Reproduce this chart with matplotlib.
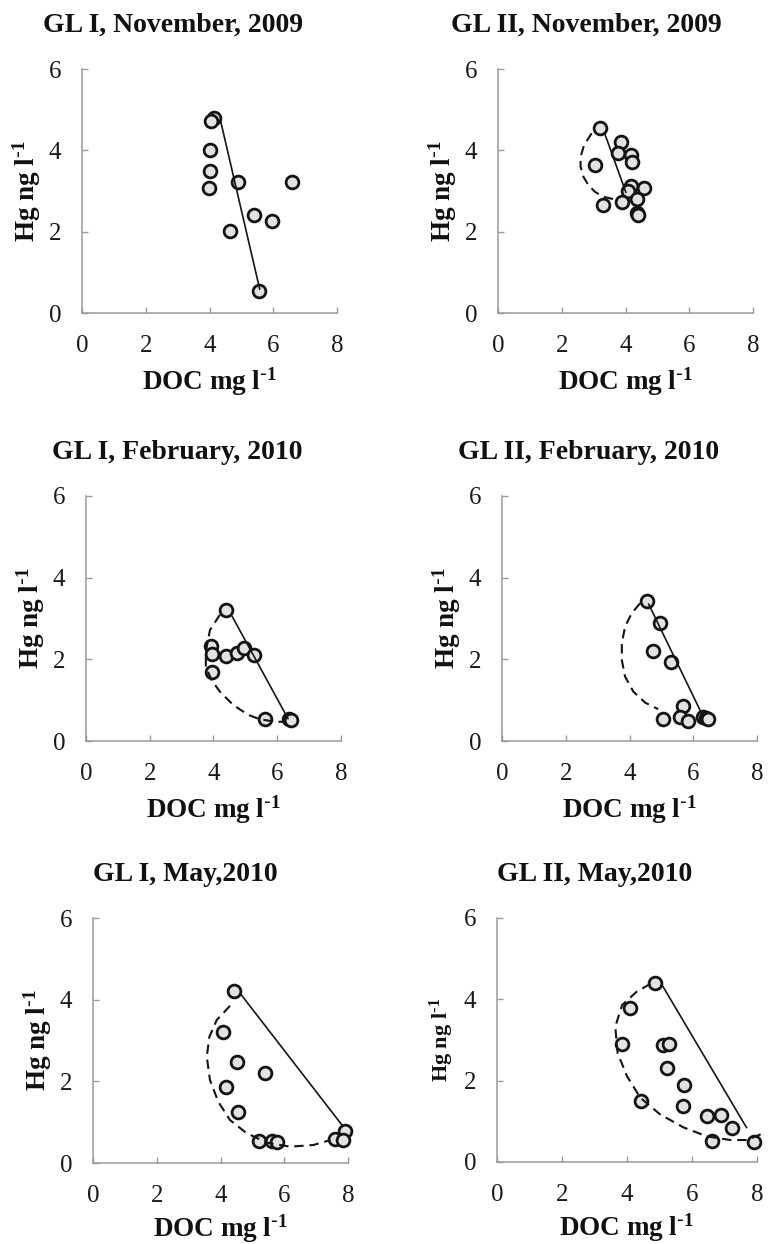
import matplotlib
matplotlib.use("Agg")
import matplotlib.pyplot as plt

plt.rcParams['font.family'] = ['Liberation Serif', 'DejaVu Serif']
plt.rcParams['mathtext.default'] = 'regular'

# ---------------- data ----------------
titles = ["GL I, November, 2009", "GL II, November, 2009",
          "GL I, February, 2010", "GL II, February, 2010",
          "GL I, May,2010", "GL II, May,2010"]
x_ticks = [0, 2, 4, 6, 8]
y_ticks = [0, 2, 4, 6]
x_label = r"DOC mg l$^{\text{-}1}$"
y_label = r"Hg ng l$^{\text{-}1}$"

# GL I, November 2009
p1_doc = [4.13, 4.06, 4.00, 4.00, 3.97, 4.90, 6.59, 5.39, 5.96, 4.63, 5.54]
p1_hg = [4.79, 4.71, 4.01, 3.50, 3.07, 3.23, 3.21, 2.41, 2.27, 2.02, 0.53]
p1_line_doc = [4.34, 5.58]
p1_line_hg = [4.75, 0.57]
p1_curve_doc = []
p1_curve_hg = []

# GL II, November 2009
p2_doc = [3.20, 3.85, 3.77, 4.16, 4.21, 3.04, 4.16, 4.09, 4.59, 4.37, 3.90, 3.30, 4.37, 4.40]
p2_hg = [4.54, 4.20, 3.94, 3.88, 3.72, 3.64, 3.12, 3.01, 3.07, 2.80, 2.74, 2.66, 2.47, 2.42]
p2_line_doc = [3.33, 4.02]
p2_line_hg = [4.45, 2.95]
p2_curve_doc = [2.94, 2.70, 2.59, 2.59, 2.68, 2.83, 3.04, 3.30, 3.62]
p2_curve_hg = [4.42, 4.13, 3.84, 3.60, 3.35, 3.15, 2.98, 2.86, 2.80]

# GL I, February 2010
p3_doc = [4.39, 3.91, 3.94, 4.38, 4.73, 4.96, 5.27, 3.94, 5.62, 6.38, 6.42]
p3_hg = [3.21, 2.33, 2.13, 2.07, 2.15, 2.27, 2.11, 1.70, 0.54, 0.53, 0.52]
p3_line_doc = [4.58, 6.35]
p3_line_hg = [3.06, 0.53]
p3_curve_doc = [4.20, 3.89, 3.76, 3.76, 3.94, 4.20, 4.62, 5.09, 5.46, 5.98, 6.19]
p3_curve_hg = [3.09, 2.72, 2.19, 1.82, 1.49, 1.21, 0.88, 0.64, 0.53, 0.47, 0.47]

# GL II, February 2010
p4_doc = [4.54, 4.96, 4.75, 5.29, 5.69, 5.58, 5.85, 5.06, 6.32, 6.40, 6.47]
p4_hg = [3.44, 2.90, 2.21, 1.93, 0.86, 0.58, 0.50, 0.54, 0.58, 0.56, 0.53]
p4_line_doc = [4.59, 6.26]
p4_line_hg = [3.37, 0.68]
p4_curve_doc = [4.33, 4.07, 3.86, 3.76, 3.76, 3.86, 4.12, 4.49, 4.90]
p4_curve_hg = [3.37, 3.13, 2.80, 2.39, 1.98, 1.58, 1.21, 0.94, 0.78]

# GL I, May 2010
p5_doc = [4.43, 4.09, 4.53, 5.40, 4.17, 4.56, 5.21, 5.61, 5.76, 7.59, 7.91, 7.85]
p5_hg = [4.22, 3.22, 2.48, 2.20, 1.85, 1.26, 0.54, 0.55, 0.52, 0.59, 0.79, 0.56]
p5_line_doc = [4.61, 7.85]
p5_line_hg = [4.16, 0.89]
p5_curve_doc = [4.30, 3.88, 3.65, 3.57, 3.67, 3.93, 4.30, 4.82, 5.45, 6.18, 6.91, 7.44]
p5_curve_hg = [3.85, 3.50, 3.09, 2.60, 2.03, 1.50, 1.05, 0.73, 0.50, 0.40, 0.44, 0.56]

# GL II, May 2010
p6_doc = [4.87, 4.08, 3.85, 5.11, 5.28, 5.23, 5.76, 5.71, 4.43, 6.46, 6.89, 7.23, 6.63, 7.91]
p6_hg = [4.40, 3.79, 2.90, 2.87, 2.89, 2.30, 1.90, 1.37, 1.51, 1.13, 1.16, 0.83, 0.52, 0.50]
p6_line_doc = [5.08, 7.69]
p6_line_hg = [4.35, 0.83]
p6_curve_doc = [4.72, 4.30, 3.85, 3.64, 3.71, 4.00, 4.41, 5.02, 5.74, 6.46, 7.18, 7.69, 8.26]
p6_curve_hg = [4.38, 4.19, 3.86, 3.33, 2.68, 2.11, 1.58, 1.17, 0.85, 0.63, 0.54, 0.54, 0.73]

panels = [
    (p1_doc, p1_hg, p1_line_doc, p1_line_hg, p1_curve_doc, p1_curve_hg),
    (p2_doc, p2_hg, p2_line_doc, p2_line_hg, p2_curve_doc, p2_curve_hg),
    (p3_doc, p3_hg, p3_line_doc, p3_line_hg, p3_curve_doc, p3_curve_hg),
    (p4_doc, p4_hg, p4_line_doc, p4_line_hg, p4_curve_doc, p4_curve_hg),
    (p5_doc, p5_hg, p5_line_doc, p5_line_hg, p5_curve_doc, p5_curve_hg),
    (p6_doc, p6_hg, p6_line_doc, p6_line_hg, p6_curve_doc, p6_curve_hg),
]

# ---------------- layout (pixels) ----------------
W, H = 769, 1244
# left, right, top, bottom of each plot area
boxes = [(82, 337, 69, 313), (498, 753, 69, 313),
         (86, 341, 496, 741), (502, 757, 496, 741),
         (93, 348, 918, 1163), (497, 757, 918, 1162)]
title_pos = [(173, 32), (586, 32), (177, 459), (589, 459), (185, 881), (595, 881)]
xlabel_drop = [77, 77, 77, 77, 74, 74]
ylabel_size = [19.5, 19.5, 19.5, 19.5, 19.5, 16]

fig = plt.figure(figsize=(W / 100, H / 100), dpi=100)
fig.patch.set_facecolor('white')

spine_col = '#9a9a9a'
for i, (box, data) in enumerate(zip(boxes, panels)):
    l, r, t, b = box
    ax = fig.add_axes([l / W, 1 - b / H, (r - l) / W, (b - t) / H])
    doc, hg, ldoc, lhg, cdoc, chg = data
    ax.plot(doc, hg, linestyle='none', marker='o', markersize=9.2,
            markerfacecolor='#e2e2e2', markeredgecolor='#141414',
            markeredgewidth=2.0, zorder=3, clip_on=False)
    ax.plot(ldoc, lhg, color='#141414', linewidth=1.2, zorder=4,
            clip_on=False, solid_capstyle='butt')
    if cdoc:
        ax.plot(cdoc, chg, color='#141414', linewidth=1.5,
                linestyle=(0, (4.5, 2.8)), zorder=4, clip_on=False)
    ax.set_xlim(0, 8)
    ax.set_ylim(0, 6)
    ax.set_xticks(x_ticks)
    ax.set_yticks(y_ticks)
    for s in ['top', 'right']:
        ax.spines[s].set_visible(False)
    for s in ['left', 'bottom']:
        ax.spines[s].set_color(spine_col)
        ax.spines[s].set_linewidth(1.1)
    ax.tick_params(axis='both', direction='in', length=4, width=1.0,
                   color=spine_col, labelsize=18, labelcolor='#1a1a1a')
    ax.tick_params(axis='x', pad=15.5)
    ax.tick_params(axis='y', pad=15)
    ax.patch.set_alpha(0)

    tx, ty = title_pos[i]
    fig.text(tx / W, 1 - ty / H, titles[i], ha='center', va='baseline',
             fontsize=20, fontweight='bold', color='#111111')
    fig.text(((l + r) / 2) / W, 1 - (b + xlabel_drop[i]) / H, x_label,
             ha='center', va='baseline', fontsize=19.5, fontweight='bold',
             color='#111111')
    fig.text((l - 55) / W, 1 - ((t + b) / 2) / H, y_label, ha='center',
             va='center', rotation=90, fontsize=ylabel_size[i],
             fontweight='bold', color='#111111')

fig.savefig('out.png', dpi=100, facecolor='white')
